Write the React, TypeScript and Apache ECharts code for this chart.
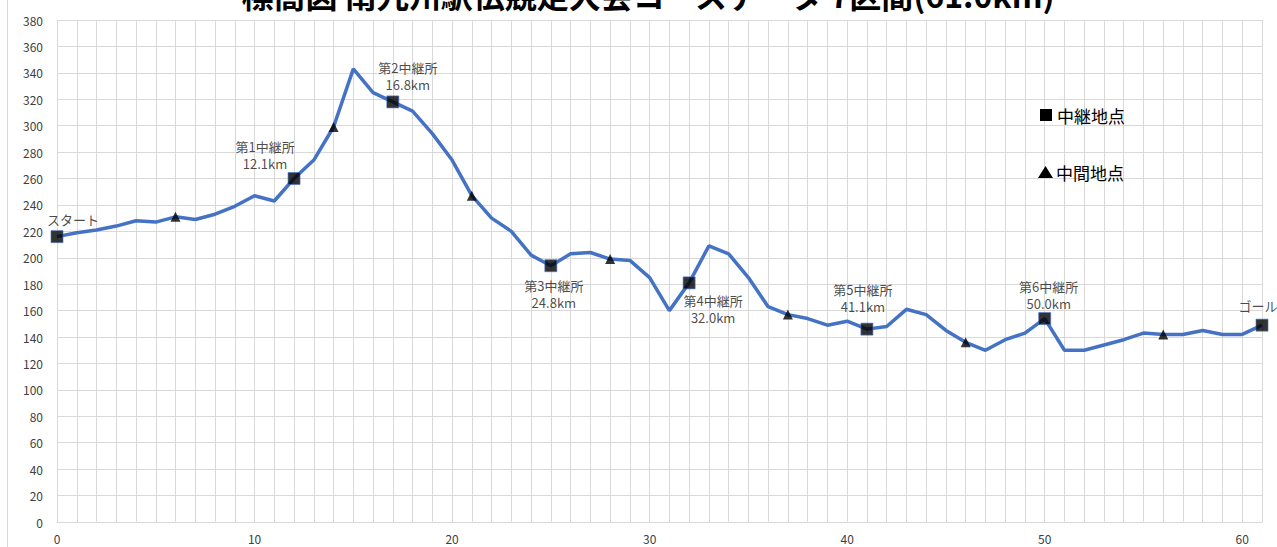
import React, { useEffect, useRef } from "react";
import * as echarts from "echarts";

const titleText = "標高図 南九州駅伝競走大会コースデータ 7区間(61.0km)";

// Elevation (m) at each km from 0 to 61
const elevation = [
  216, 219, 221, 224, 228, 227, 231, 229, 233, 239,
  247, 243, 260, 274, 299, 343, 325, 318, 311, 294,
  274, 247, 230, 220, 202, 194, 203, 204, 199, 198,
  185, 160, 181, 209, 203, 185, 163, 157, 154, 149,
  152, 146, 148, 161, 157, 145, 136, 130, 138, 143,
  154, 130, 130, 134, 138, 143, 142, 142, 145, 142,
  142, 149,
];

// Relay points (中継地点) – km index along the course
const relayKm = [0, 12, 17, 25, 32, 41, 50, 61];
const relayNames = ["スタート", "第1中継所", "第2中継所", "第3中継所", "第4中継所", "第5中継所", "第6中継所", "ゴール"];
const relayDist = ["", "12.1km", "16.8km", "24.8km", "32.0km", "41.1km", "50.0km", ""];

// Mid points (中間地点)
const midKm = [6, 14, 21, 28, 37, 46, 56];

const legendItems = ["中継地点", "中間地点"];

const yTicks = { min: 0, max: 380, interval: 20 };
const xTicks = { min: 0, max: 61, interval: 1, labelEvery: 10 };

const FONT = "'Noto Sans CJK JP', 'Noto Sans', sans-serif";

// label offsets (px) relative to each relay marker
const relayLabelOffsets: [number, number][] = [
  [16, -17],
  [-29, -24],
  [15, -26],
  [3, 28],
  [24, 26],
  [-4, -31],
  [4, -24],
  [-4, -20],
];

export default function App() {
  const ref = useRef<HTMLDivElement>(null);

  useEffect(() => {
    if (!ref.current) return;
    const chart = echarts.init(ref.current, null, { renderer: "svg" });

    const lineData = elevation.map((v, i) => [i, v]);
    const relayData = relayKm.map((k, i) => ({
      value: [k, elevation[k]],
      label: {
        show: true,
        formatter: relayDist[i] ? `${relayNames[i]}\n${relayDist[i]}` : relayNames[i],
        position: "inside",
        offset: relayLabelOffsets[i],
        color: "#1a1a1a",
        fontSize: 13,
        lineHeight: 17,
        fontFamily: FONT,
        align: "center",
        verticalAlign: "middle",
      },
    }));
    const midData = midKm.map((k) => [k, elevation[k]]);

    chart.setOption({
      animation: false,
      backgroundColor: "#ffffff",
      textStyle: { fontFamily: FONT },
      grid: { left: 57, right: 15, top: 20, bottom: 25, containLabel: false },
      xAxis: {
        type: "value",
        min: xTicks.min,
        max: xTicks.max,
        interval: xTicks.interval,
        axisLine: { show: true, lineStyle: { color: "#d9d9d9", width: 1 } },
        axisTick: { show: false },
        axisLabel: {
          color: "#404040",
          fontSize: 12,
          fontFamily: FONT,
          margin: 10,
          formatter: (v: number) => (v % xTicks.labelEvery === 0 ? String(v) : ""),
        },
        splitLine: { show: true, lineStyle: { color: "#d9d9d9", width: 1 } },
      },
      yAxis: {
        type: "value",
        min: yTicks.min,
        max: yTicks.max,
        interval: yTicks.interval,
        axisLine: { show: false },
        axisTick: { show: false },
        axisLabel: { color: "#404040", fontSize: 12, fontFamily: FONT, margin: 14 },
        splitLine: { show: true, lineStyle: { color: "#d9d9d9", width: 1 } },
      },
      series: [
        {
          type: "line",
          data: lineData,
          showSymbol: false,
          symbol: "none",
          lineStyle: { color: "#4472C4", width: 3.5 },
          z: 2,
        },
        {
          type: "scatter",
          data: relayData,
          symbol: "rect",
          symbolSize: 12,
          itemStyle: { color: "#000000", borderColor: "#4472C4", borderWidth: 0.8 },
          z: 3,
        },
        {
          type: "scatter",
          data: midData,
          symbol: "triangle",
          symbolSize: 10,
          itemStyle: { color: "#000000" },
          z: 3,
        },
      ],
      graphic: [
        {
          type: "line",
          z: 100,
          shape: { x1: 7.5, y1: 0, x2: 7.5, y2: 547 },
          style: { stroke: "#d9d9d9", lineWidth: 1 },
          silent: true,
        },
        {
          type: "text",
          z: 100,
          x: 648,
          y: -22,
          style: {
            text: titleText,
            fontSize: 32,
            fontWeight: "bold",
            fill: "#000000",
            fontFamily: FONT,
            textAlign: "center",
            textVerticalAlign: "top",
          },
        },
        {
          type: "rect",
          z: 100,
          shape: { x: 1040, y: 109, width: 12, height: 12 },
          style: { fill: "#000000" },
        },
        {
          type: "text",
          z: 100,
          x: 1057,
          y: 115,
          style: {
            text: legendItems[0],
            fontSize: 17,
            fill: "#000000",
            fontFamily: FONT,
            textAlign: "left",
            textVerticalAlign: "middle",
          },
        },
        {
          type: "polygon",
          z: 100,
          shape: { points: [[1038, 178], [1053, 178], [1045.5, 166]] },
          style: { fill: "#000000" },
        },
        {
          type: "text",
          z: 100,
          x: 1056,
          y: 172,
          style: {
            text: legendItems[1],
            fontSize: 17,
            fill: "#000000",
            fontFamily: FONT,
            textAlign: "left",
            textVerticalAlign: "middle",
          },
        },
      ],
    });

    return () => chart.dispose();
  }, []);

  return (
    <div
      ref={ref}
      style={{ position: "absolute", left: 0, top: 0, width: 1277, height: 547 }}
    />
  );
}
